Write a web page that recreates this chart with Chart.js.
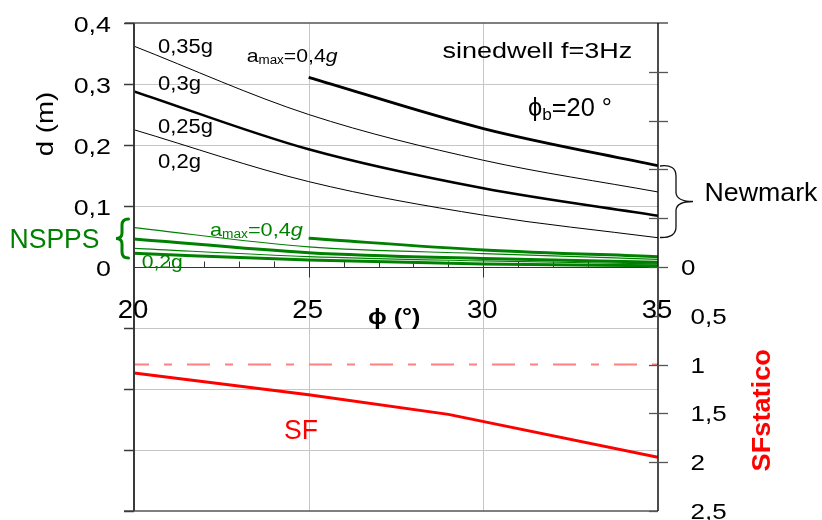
<!DOCTYPE html>
<html><head><meta charset="utf-8">
<script src="https://cdn.jsdelivr.net/npm/chart.js@4.4.1/dist/chart.umd.min.js"></script>
<style>html,body{margin:0;padding:0;background:#fff;}canvas{display:block;}</style>
</head><body>
<canvas id="c" width="822" height="520"></canvas>
<script>
// ---------- data ----------
const phi = [20, 25, 30, 35];
const phiFrom25 = [25, 30, 35];
// Newmark (black)
const newmark040 = [0.311, 0.227, 0.166];           // from 25 deg
const newmark035 = [0.362, 0.250, 0.175, 0.123];
const newmark030 = [0.288, 0.193, 0.129, 0.084];
const newmark025 = [0.225, 0.140, 0.085, 0.048];
// NSPPS (green)
const nspps040 = [0.047, 0.028, 0.017];               // from 25 deg
const nspps035 = [0.0645, 0.033, 0.022, 0.0126];
const nspps030 = [0.046, 0.0235, 0.014, 0.0077];
const nspps025 = [0.0306, 0.017, 0.010, 0.005];
const nspps020 = [0.0224, 0.0115, 0.005, 0.002];
// Static safety factor (red)
const sfPhi = [20, 25, 29, 35];
const sfStatico = [1.085, 1.31, 1.51, 1.95];
const sfLimitPhi = [20, 35];
const sfLimit = [1, 1];
// ticks
const phiTicks = [20, 25, 30, 35];
const phiTickLabels = ['20', '25', '30', '35'];
const dTicks = [0.4, 0.3, 0.2, 0.1, 0];
const dTickLabels = ['0,4', '0,3', '0,2', '0,1', '0'];
const dGrid = [0.3, 0.2, 0.1, -0.1, -0.2, -0.3];
const dOuterTicks = [0.4, 0.3, 0.2, 0.1, -0.1, -0.2, -0.3, -0.4];
const sfTicks = [0, 0.5, 1, 1.5, 2, 2.5];
const sfTickLabels = ['0', '0,5', '1', '1,5', '2', '2,5'];
const sfTickMarks = [-2, -1.5, -1, -0.5, 0, 0.5, 1, 1.5, 2, 2.5];

// ---------- helpers ----------
const GREEN = '#008000', RED = '#ff0000';
const PHI = '\u03d5';
const pts = (xs, ys) => xs.map((x, i) => ({x: x, y: ys[i]}));
function ds(xs, ys, color, width, axis, extra) {
  return Object.assign({data: pts(xs, ys), borderColor: color, borderWidth: width,
    yAxisID: axis || 'y', pointRadius: 0, fill: false}, extra || {});
}
const FAMILY = '"Liberation Sans", Arial, Helvetica, "DejaVu Sans", sans-serif';
function fnt(p) { return (p.italic ? 'italic ' : '') + (p.bold ? 'bold ' : '') + p.size + 'px ' + FAMILY; }

// draw a run of text parts fitted (ink) between left and right
function runText(ctx, parts, left, right, base, color, rotated) {
  ctx.save();
  ctx.fillStyle = color;
  ctx.textAlign = 'left';
  ctx.textBaseline = 'alphabetic';
  const ws = [];
  let sum = 0, abl0 = 0, abrLast = 0;
  parts.forEach((p, i) => {
    ctx.font = fnt(p);
    const m = ctx.measureText(p.t);
    ws.push(m.width);
    if (i === 0) abl0 = m.actualBoundingBoxLeft;
    if (i === parts.length - 1) abrLast = sum + m.actualBoundingBoxRight;
    sum += m.width;
  });
  const ink = abrLast + abl0;
  const target = rotated ? (left - right) : (right - left);
  const sx = target / ink;
  if (rotated) { ctx.translate(base, left); ctx.rotate(-Math.PI / 2); }
  else ctx.translate(left, base);
  ctx.scale(sx, 1);
  let x = abl0;
  parts.forEach((p, i) => {
    ctx.font = fnt(p);
    ctx.fillText(p.t, x, p.dy || 0);
    x += ws[i];
  });
  ctx.restore();
}
function label(ctx, s, x, base, size, align, sx, color) {
  ctx.save();
  ctx.fillStyle = color || '#000';
  ctx.font = size + 'px ' + FAMILY;
  ctx.textAlign = align;
  ctx.textBaseline = 'alphabetic';
  ctx.translate(x, base);
  ctx.scale(sx, 1);
  ctx.fillText(s, 0, 0);
  ctx.restore();
}
function seg(ctx, x1, y1, x2, y2) { ctx.beginPath(); ctx.moveTo(x1, y1); ctx.lineTo(x2, y2); ctx.stroke(); }

const decor = {
  id: 'decor',
  beforeDatasetsDraw(chart) {
    const {ctx, chartArea: a, scales: {x, y}} = chart;
    ctx.save();
    ctx.strokeStyle = '#c6c6c6'; ctx.lineWidth = 1;
    dGrid.forEach(v => { const py = Math.round(y.getPixelForValue(v)) + 0.5; seg(ctx, a.left, py, a.right, py); });
    [25, 30].forEach(v => { const px = Math.round(x.getPixelForValue(v)) + 0.5; seg(ctx, px, a.top, px, a.bottom); });
    // d = 0 axis
    const y0 = Math.round(y.getPixelForValue(0)) + 0.5;
    ctx.strokeStyle = '#333'; ctx.lineWidth = 1;
    seg(ctx, a.left, y0, a.right, y0);
    for (let v = 21; v < 35; v++) {
      const px = Math.round(x.getPixelForValue(v)) + 0.5;
      if (v % 5 === 0) seg(ctx, px, y0 - 8, px, y0 + 10);
      else seg(ctx, px, y0 - 6, px, y0);
    }
    ctx.restore();
  },
  afterDatasetsDraw(chart) {
    const {ctx, chartArea: a, scales: {x, y, y2}} = chart;
    ctx.save();
    // frame
    ctx.strokeStyle = '#555'; ctx.lineWidth = 1.5;
    seg(ctx, a.left - 9, a.top, a.right + 10, a.top);
    seg(ctx, a.left - 10, a.bottom, a.right, a.bottom);
    ctx.strokeStyle = '#3a3a3a'; ctx.lineWidth = 2;
    seg(ctx, a.left, a.top, a.left, a.bottom);
    ctx.lineWidth = 1.5;
    dOuterTicks.forEach(v => { const py = Math.round(y.getPixelForValue(v)) + 0.5; seg(ctx, a.left - 10, py, a.left, py); });
    ctx.strokeStyle = '#111'; ctx.lineWidth = 1.5;
    seg(ctx, a.right, a.top, a.right, a.bottom);
    ctx.strokeStyle = '#555'; ctx.lineWidth = 1.3;
    sfTickMarks.forEach(v => {
      const py = Math.round(y2.getPixelForValue(v)) + 0.5;
      seg(ctx, a.right - 9, py, v === 2.5 ? a.right : a.right + 10, py);
    });
    // tick labels
    dTicks.forEach((v, i) => label(ctx, dTickLabels[i], 111, y.getPixelForValue(v) + 9, 22, 'right', 1.22));
    phiTicks.forEach((v, i) => label(ctx, phiTickLabels[i], x.getPixelForValue(v) - 1, 318, 25, 'center', 1.1));
    sfTicks.forEach((v, i) => {
      const lx = v === 0 ? 681 : 690.5;
      label(ctx, sfTickLabels[i], lx, y2.getPixelForValue(v) + 8, 22, 'left', 1.18);
    });
    // axis titles
    runText(ctx, [{t: 'd (m)', size: 24}], 155, 93, 53, '#000', true);
    runText(ctx, [{t: 'SFstatico', size: 26, bold: true}], 471.5, 350, 770, RED, true);
    runText(ctx, [{t: PHI + ' (\u00b0)', size: 22, bold: true}], 368, 420, 323.5, '#000');
    // annotations
    runText(ctx, [{t: 'sinedwell f=3Hz', size: 22.5}], 442.5, 632, 57.7, '#000');
    runText(ctx, [{t: PHI, size: 25}, {t: 'b', size: 17, dy: 4}, {t: '=20 \u00b0', size: 25}], 528, 611, 115.7, '#000');
    runText(ctx, [{t: '0,35g', size: 19.5}], 158, 212, 53.3, '#000');
    runText(ctx, [{t: '0,3g', size: 19.5}], 158, 200, 90, '#000');
    runText(ctx, [{t: '0,25g', size: 19.5}], 158, 212, 133.3, '#000');
    runText(ctx, [{t: '0,2g', size: 19.5}], 158, 200, 168.3, '#000');
    runText(ctx, [{t: 'a', size: 19}, {t: 'max', size: 12, dy: 2}, {t: '=0,4', size: 19}, {t: 'g', size: 19, italic: true}], 246.7, 338, 61.7, '#000');
    runText(ctx, [{t: 'a', size: 19}, {t: 'max', size: 12, dy: 2}, {t: '=0,4', size: 19}, {t: 'g', size: 19, italic: true}], 210, 303.3, 235.7, GREEN);
    runText(ctx, [{t: '0,2g', size: 18}], 141.7, 181.7, 267.5, GREEN);
    runText(ctx, [{t: 'NSPPS', size: 27}], 11.5, 98.5, 248.3, GREEN);
    runText(ctx, [{t: 'Newmark', size: 26}], 706.5, 818.5, 200.7, '#000');
    runText(ctx, [{t: 'SF', size: 27}], 285, 317.5, 439, RED);
    // green brace {
    ctx.strokeStyle = GREEN; ctx.lineWidth = 3; ctx.lineCap = 'round';
    ctx.beginPath();
    ctx.moveTo(128.5, 219);
    ctx.quadraticCurveTo(122, 219, 122, 225);
    ctx.lineTo(122, 233);
    ctx.quadraticCurveTo(122, 238.5, 116, 238.5);
    ctx.quadraticCurveTo(122, 238.5, 122, 244);
    ctx.lineTo(122, 252);
    ctx.quadraticCurveTo(122, 258, 128.5, 258);
    ctx.stroke();
    // black brace }
    ctx.strokeStyle = '#111'; ctx.lineWidth = 1.3; ctx.lineCap = 'butt';
    ctx.beginPath();
    ctx.moveTo(660, 166);
    ctx.quadraticCurveTo(676, 164, 676, 176);
    ctx.lineTo(676, 193);
    ctx.quadraticCurveTo(677, 201.5, 693, 201.5);
    ctx.quadraticCurveTo(677, 201.5, 676, 210);
    ctx.lineTo(676, 227);
    ctx.quadraticCurveTo(676, 238, 660, 237.5);
    ctx.stroke();
    ctx.restore();
  }
};

new Chart(document.getElementById('c'), {
  type: 'line',
  data: {
    datasets: [
      ds(phi, nspps020, GREEN, 3),
      ds(phi, nspps025, GREEN, 1.2),
      ds(phi, nspps030, GREEN, 3),
      ds(phi, nspps035, GREEN, 1.2),
      ds(phiFrom25, nspps040, GREEN, 3),
      ds(phi, newmark025, '#000', 1),
      ds(phi, newmark030, '#000', 2.5),
      ds(phi, newmark035, '#000', 1),
      ds(phiFrom25, newmark040, '#000', 2.8),
      ds(sfLimitPhi, sfLimit, '#ff8080', 2, 'y2', {borderDash: [23, 15, 8, 15], borderDashOffset: 8, tension: 0, cubicInterpolationMode: 'default'}),
      ds(sfPhi, sfStatico, RED, 3, 'y2', {tension: 0, cubicInterpolationMode: 'default'})
    ]
  },
  options: {
    responsive: false, animation: false, devicePixelRatio: 1,
    layout: {padding: {left: 134, right: 164, top: 23, bottom: 9}},
    plugins: {legend: {display: false}, tooltip: {enabled: false}},
    elements: {point: {radius: 0}, line: {cubicInterpolationMode: 'monotone'}},
    scales: {
      x: {type: 'linear', min: 20, max: 35, display: false},
      y: {type: 'linear', min: -0.4, max: 0.4, display: false},
      y2: {type: 'linear', min: -2.5, max: 2.5, reverse: true, display: false, position: 'right'}
    }
  },
  plugins: [decor]
});
</script>
</body></html>
